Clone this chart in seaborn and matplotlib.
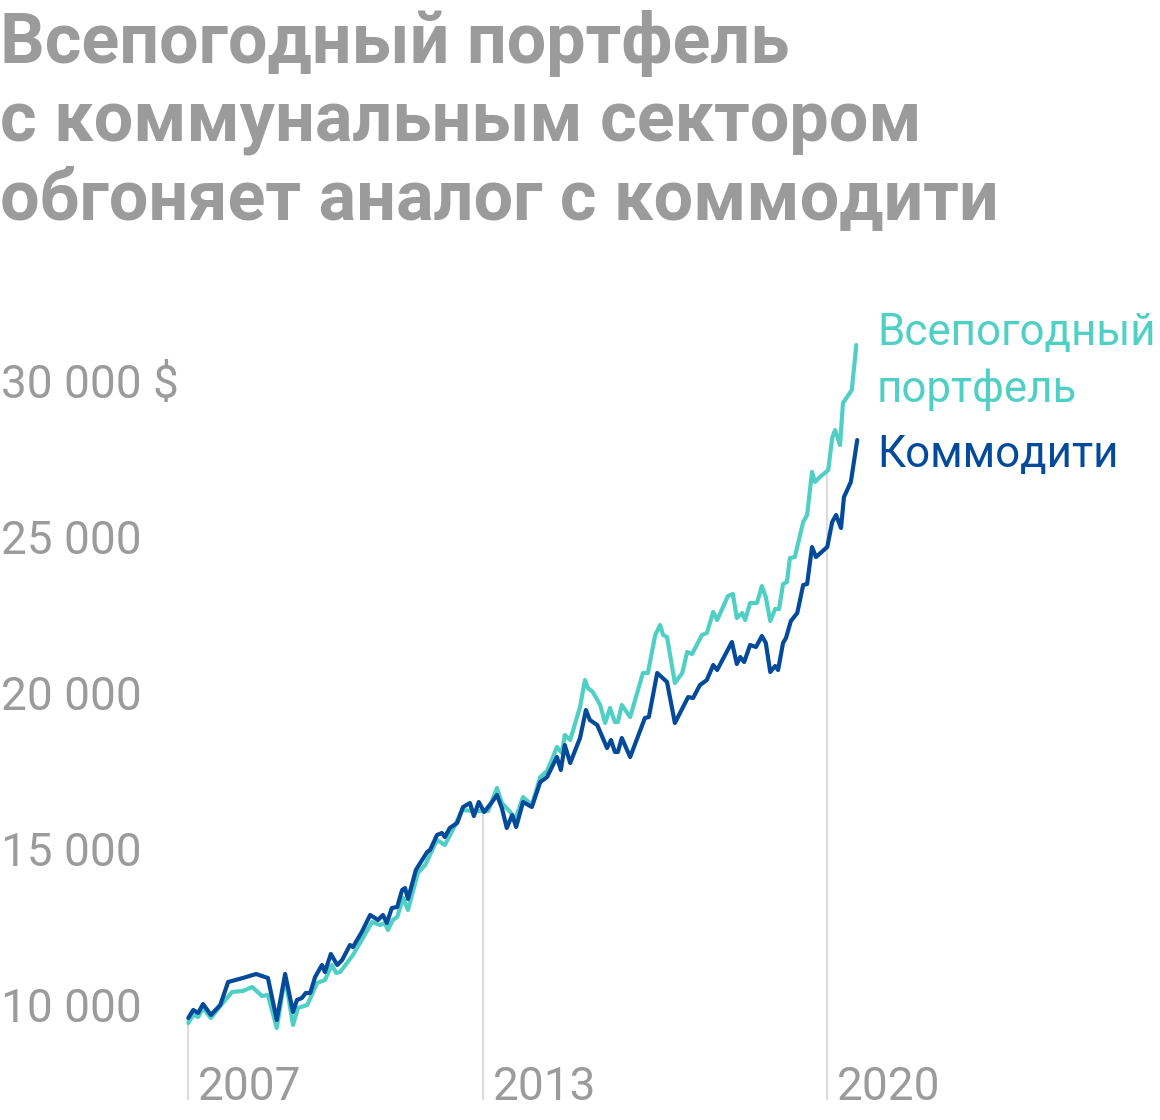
import numpy as np
import pandas as pd
import matplotlib
matplotlib.use('Agg')
import matplotlib.pyplot as plt
import seaborn as sns

# ── данные (доллары) ──────────────────────────────────────────────────────────
allw_years = [2007.00, 2007.10, 2007.20, 2007.30, 2007.46, 2007.65, 2007.89, 2008.11,
              2008.30, 2008.50, 2008.62, 2008.80, 2008.97, 2009.13, 2009.23, 2009.42,
              2009.62, 2009.78, 2009.92, 2010.01, 2010.09, 2010.35, 2010.74, 2010.90,
              2011.00, 2011.06, 2011.16, 2011.25, 2011.37, 2011.47, 2011.67, 2011.82,
              2012.06, 2012.22, 2012.43, 2012.57, 2012.79, 2013.10, 2013.28, 2013.38,
              2013.55, 2013.65, 2013.81, 2013.99, 2014.16, 2014.30, 2014.42, 2014.50,
              2014.60, 2014.66, 2014.77, 2014.97, 2015.07, 2015.13, 2015.23, 2015.38,
              2015.48, 2015.58, 2015.68, 2015.74, 2015.82, 2015.99, 2016.25, 2016.35,
              2016.50, 2016.60, 2016.66, 2016.74, 2016.90, 2017.05, 2017.15, 2017.25,
              2017.45, 2017.55, 2017.68, 2017.76, 2017.98, 2018.08, 2018.16, 2018.27,
              2018.33, 2018.43, 2018.57, 2018.67, 2018.75, 2018.84, 2018.94, 2019.02,
              2019.10, 2019.18, 2019.24, 2019.34, 2019.51, 2019.59, 2019.69, 2019.75,
              2019.85, 2020.02, 2020.10, 2020.16, 2020.26, 2020.32, 2020.50, 2020.59]
allw_values = [9423, 9680, 9615, 9904, 9583, 9968, 10417, 10449,
               10577, 10288, 10320, 9263, 10897, 9359, 9904, 10000,
               10705, 10801, 11282, 11026, 11058, 11603, 12660, 12564,
               12628, 12404, 12724, 12820, 13429, 13045, 14231, 14487,
               15288, 15128, 15769, 16250, 16218, 16218, 16955, 16474,
               16186, 15929, 16666, 16410, 17307, 17500, 17948, 18269,
               18077, 18654, 18493, 19551, 20416, 20160, 20032, 19615,
               19038, 19519, 19070, 19070, 19615, 19230, 20641, 20641,
               21859, 22179, 21859, 21794, 20320, 20641, 21314, 21250,
               21859, 21923, 22596, 22339, 23108, 23173, 22403, 22564,
               22339, 22884, 22884, 23429, 23076, 22307, 22692, 22692,
               23493, 23557, 24326, 24358, 25480, 25705, 27083, 26762,
               26922, 27147, 28172, 28429, 27948, 29294, 29711, 31153]

comm_years = [2007.00, 2007.10, 2007.20, 2007.30, 2007.46, 2007.65, 2007.81, 2008.11,
              2008.38, 2008.62, 2008.80, 2008.97, 2009.13, 2009.21, 2009.31, 2009.39,
              2009.48, 2009.58, 2009.72, 2009.78, 2009.90, 2010.03, 2010.13, 2010.29,
              2010.35, 2010.53, 2010.70, 2010.86, 2010.96, 2011.04, 2011.14, 2011.25,
              2011.35, 2011.41, 2011.47, 2011.63, 2011.86, 2011.92, 2012.06, 2012.16,
              2012.22, 2012.32, 2012.47, 2012.59, 2012.73, 2012.81, 2012.91, 2013.02,
              2013.18, 2013.28, 2013.38, 2013.48, 2013.59, 2013.67, 2013.81, 2013.99,
              2014.16, 2014.30, 2014.50, 2014.58, 2014.66, 2014.77, 2014.97, 2015.09,
              2015.17, 2015.32, 2015.52, 2015.60, 2015.68, 2015.74, 2015.82, 2015.99,
              2016.29, 2016.37, 2016.54, 2016.74, 2016.90, 2017.17, 2017.27, 2017.41,
              2017.55, 2017.68, 2017.76, 2018.06, 2018.16, 2018.23, 2018.31, 2018.43,
              2018.55, 2018.67, 2018.75, 2018.84, 2018.94, 2019.00, 2019.10, 2019.16,
              2019.26, 2019.39, 2019.51, 2019.59, 2019.69, 2019.77, 2020.00, 2020.10,
              2020.18, 2020.28, 2020.34, 2020.48, 2020.61]
comm_values = [9583, 9840, 9744, 10032, 9680, 10000, 10737, 10865,
               10994, 10865, 9519, 10994, 9776, 10160, 10224, 10385,
               10385, 10897, 11282, 11058, 11635, 11282, 11442, 11923,
               11859, 12340, 12885, 12724, 12885, 12628, 13109, 13141,
               13686, 13750, 13397, 14327, 14904, 14968, 15449, 15513,
               15384, 15673, 15833, 16346, 16474, 16057, 16506, 16186,
               16506, 16731, 16314, 15673, 16090, 15705, 16506, 16346,
               17147, 17307, 17948, 17532, 18333, 17756, 18557, 19455,
               19134, 18974, 18237, 18493, 18109, 18109, 18557, 17948,
               19198, 19230, 20641, 20352, 19038, 19871, 19839, 20256,
               20416, 20897, 20737, 21634, 20929, 21153, 20993, 21538,
               21474, 21826, 21602, 20673, 20865, 20737, 21602, 21762,
               22307, 22564, 23461, 23493, 24679, 24358, 24679, 25480,
               25705, 25288, 26281, 26762, 28108]

y_ticks = [10000, 15000, 20000, 25000, 30000]
y_labels = ['10 000', '15 000', '20 000', '25 000', '30 000 $']
x_marks = [2007, 2013, 2020]
x_labels = ['2007', '2013', '2020']

title_lines = ['Всепогодный портфель',
               'с коммунальным сектором',
               'обгоняет аналог с коммодити']
legend_allw = ['Всепогодный', 'портфель']
legend_comm = 'Коммодити'

TEAL = '#50cfc5'
BLUE = '#034b9a'
GREY_TXT = '#9b9b9b'
GREY_LINE = '#dcdcdc'

sns.set_theme(style='white')
plt.rcParams['font.family'] = ['Roboto', 'DejaVu Sans']

W, H = 1160, 1120
fig = plt.figure(figsize=(W / 100, H / 100), dpi=100)

# оси: 2007 -> 188.3 px, 49.15 px/год; 10 000 -> 1005 px, 31.2 px на 1000
ax_l, ax_r, ax_t, ax_b = 150, 900, 300, 1100
ax = fig.add_axes([ax_l / W, 1 - ax_b / H, (ax_r - ax_l) / W, (ax_b - ax_t) / H])
px_year = 49.15
px_k = 31.2
ax.set_xlim(2007 - (188.3 - ax_l) / px_year, 2007 + (ax_r - 188.3) / px_year)
ax.set_ylim(10000 - (ax_b - 1005) / px_k * 1000, 10000 + (1005 - ax_t) / px_k * 1000)

df_a = pd.DataFrame({'year': allw_years, 'value': allw_values})
df_c = pd.DataFrame({'year': comm_years, 'value': comm_values})

# вертикальные линии до верхней кривой
y_bottom = ax.get_ylim()[0]
tops = [max(np.interp(x, allw_years, allw_values), np.interp(x, comm_years, comm_values))
        for x in x_marks]
ax.vlines(x_marks, y_bottom, tops, color=GREY_LINE, lw=1.6, zorder=1)

sns.lineplot(data=df_a, x='year', y='value', color=TEAL, lw=3, ax=ax, zorder=3)
sns.lineplot(data=df_c, x='year', y='value', color=BLUE, lw=3, ax=ax, zorder=4)

for side in ['top', 'right', 'left', 'bottom']:
    ax.spines[side].set_visible(False)
ax.set_xlabel('')
ax.set_ylabel('')
ax.set_xticks([])
ax.set_yticks(y_ticks)
ax.set_yticklabels(y_labels)
ax.tick_params(axis='y', length=0, pad=(ax_l - 1) * 0.72, labelsize=33, labelcolor=GREY_TXT)
for lab in ax.get_yticklabels():
    lab.set_horizontalalignment('left')

for x, lab in zip(x_marks, x_labels):
    ax.annotate(lab, xy=(x, 0), xycoords=('data', 'axes fraction'),
                xytext=(7, 0), textcoords='offset points',
                ha='left', va='baseline', fontsize=33, color=GREY_TXT)

# заголовок
for i, line in enumerate(title_lines):
    fig.text(0, 1 - (63 + 78 * i) / H, line, ha='left', va='baseline',
             fontsize=50.5, fontweight='bold', color=GREY_TXT)

# подписи серий
fig.text(877 / W, 1 - 345 / H, legend_allw[0], ha='left', va='baseline',
         fontsize=31.6, color=TEAL)
fig.text(877 / W, 1 - 402 / H, legend_allw[1], ha='left', va='baseline',
         fontsize=31.6, color=TEAL)
fig.text(877 / W, 1 - 467 / H, legend_comm, ha='left', va='baseline',
         fontsize=31.6, color=BLUE)

fig.savefig('out.png', dpi=100, facecolor='white')
